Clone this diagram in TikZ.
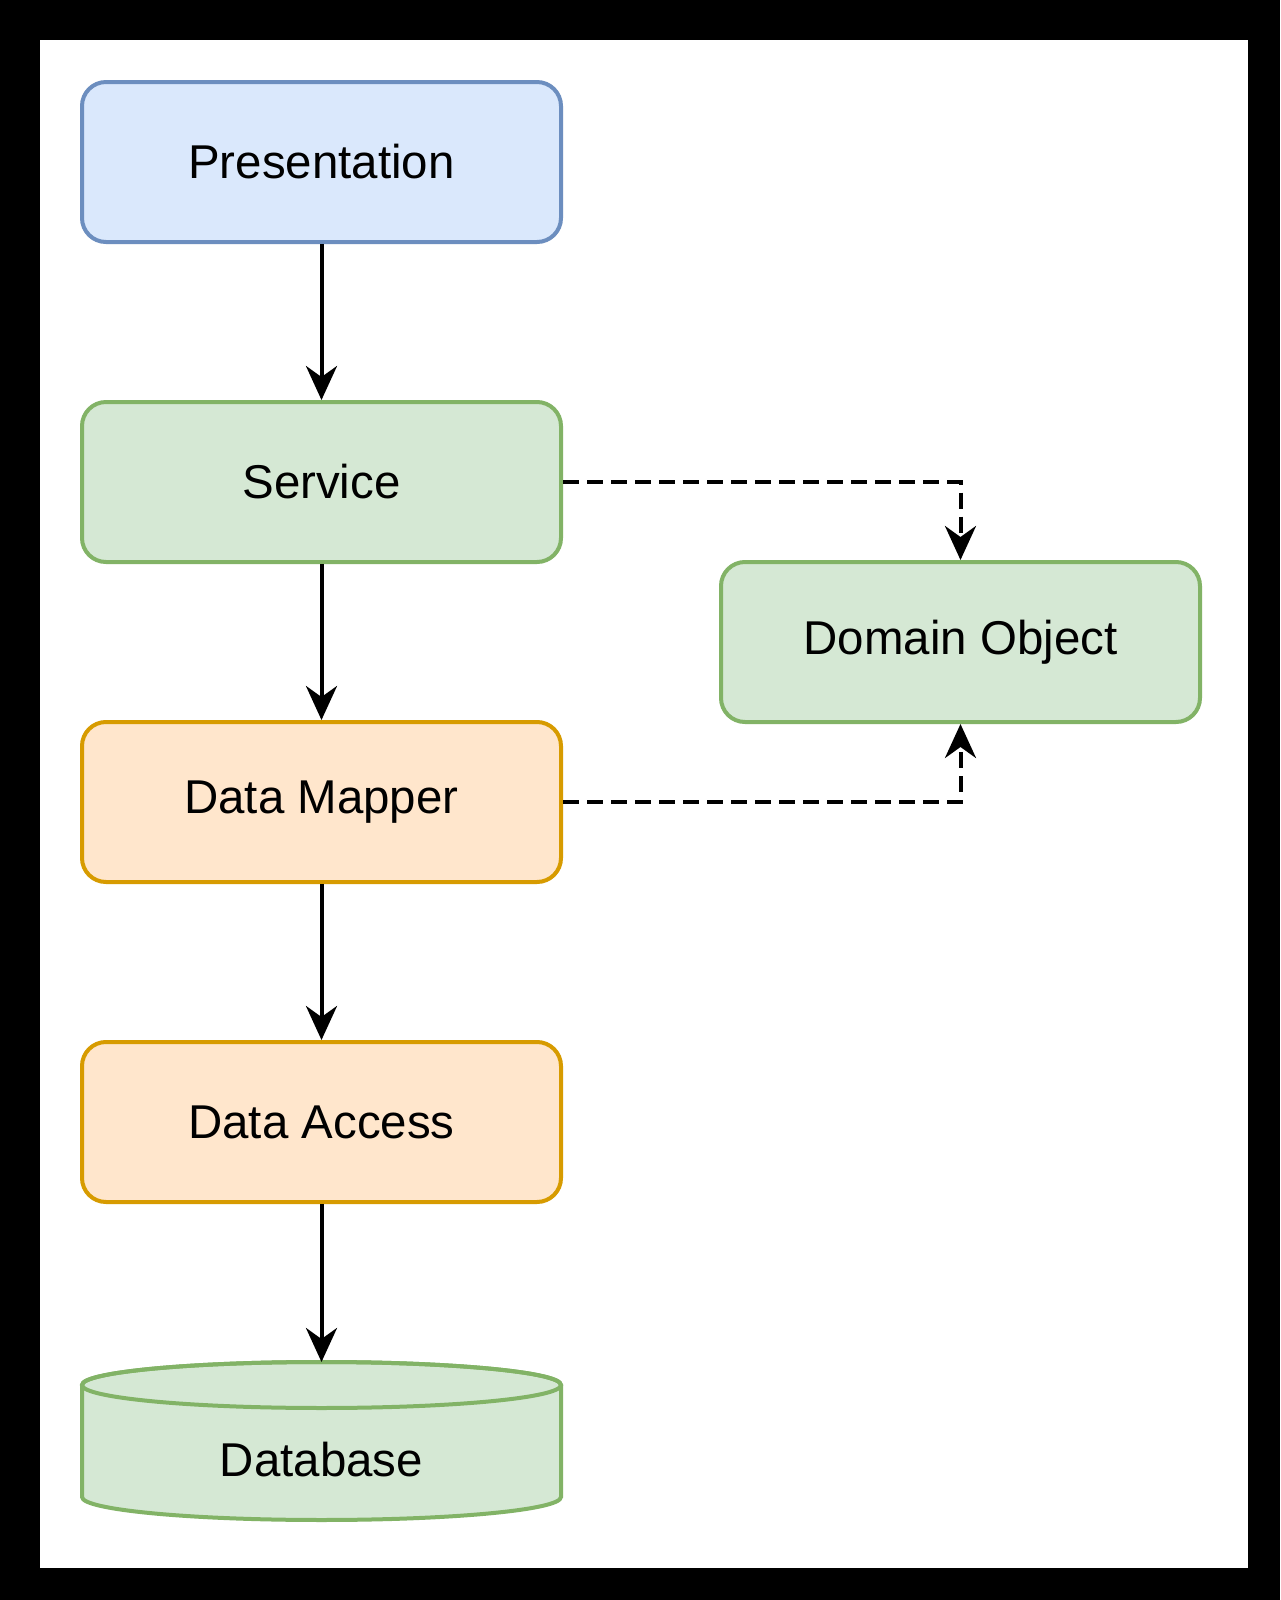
\documentclass[tikz,border=0pt]{standalone}
\usepackage{fontspec}
\setmainfont{Liberation Sans}
\definecolor{dioblue}{HTML}{DAE8FC}
\definecolor{dioblueline}{HTML}{6C8EBF}
\definecolor{diogreen}{HTML}{D5E8D4}
\definecolor{diogreenline}{HTML}{82B366}
\definecolor{dioorange}{HTML}{FFE6CC}
\definecolor{dioorangeline}{HTML}{D79B00}
\usetikzlibrary{arrows.meta, positioning, backgrounds}

\begin{document}
\begin{tikzpicture}[
  x=0.1mm, y=-0.1mm, font=\fontsize{13.5pt}{16pt}\selectfont,
  node distance=15.6mm and 15.6mm,
  layer/.style={rectangle, rounded corners=2.4mm, draw, line width=0.4mm,
            minimum width=47.9mm, minimum height=16mm, align=center},
  bl/.style={layer, fill=dioblue, draw=dioblueline},
  gr/.style={layer, fill=diogreen, draw=diogreenline},
  og/.style={layer, fill=dioorange, draw=dioorangeline},
  ar/.style={-{Stealth[length=3.4mm, width=3.1mm, inset=1.1mm]}, line width=0.4mm},
  da/.style={ar, dash pattern=on 1.6mm off 0.8mm}]
\node[bl] (pres) at (321.5,162) {Presentation};
\node[gr, below=of pres] (svc) {Service};
\node[og, below=of svc] (map) {Data Mapper};
\node[og, below=of map] (acc) {Data Access};
\node[minimum width=47.9mm, minimum height=15.8mm, outer sep=0pt, below=15.8mm of acc] (db) {\raisebox{-3.5mm}[0pt][0pt]{Database}};
\node[gr, below right=-0.4mm and 15.6mm of svc.south east, anchor=north west] (dom) {Domain Object};
% frame and cylinder behind the nodes
\begin{scope}[on background layer]
\fill[black] (0,0) rectangle (1280,1600);
\fill[white] (40,40) rectangle (1248,1568);
\filldraw[fill=diogreen, draw=diogreenline, line width=0.4mm]
  ([yshift=-2.3mm]db.north west) -- ([yshift=2.3mm]db.south west)
  arc[x radius=23.95mm, y radius=2.3mm, start angle=180, end angle=360]
  -- ([yshift=-2.3mm]db.north east)
  arc[x radius=23.95mm, y radius=2.3mm, start angle=0, end angle=180] -- cycle;
\draw[diogreenline, line width=0.4mm] ([yshift=-2.3mm]db.north)
  ellipse[x radius=23.95mm, y radius=2.3mm];
\end{scope}
\draw[ar](pres)--(svc);\draw[ar](svc)--(map);\draw[ar](map)--(acc);\draw[ar](acc)--(db);
\draw[da](svc.east)-|(dom.north);\draw[da](map.east)-|(dom.south);
\end{tikzpicture}
\end{document}
